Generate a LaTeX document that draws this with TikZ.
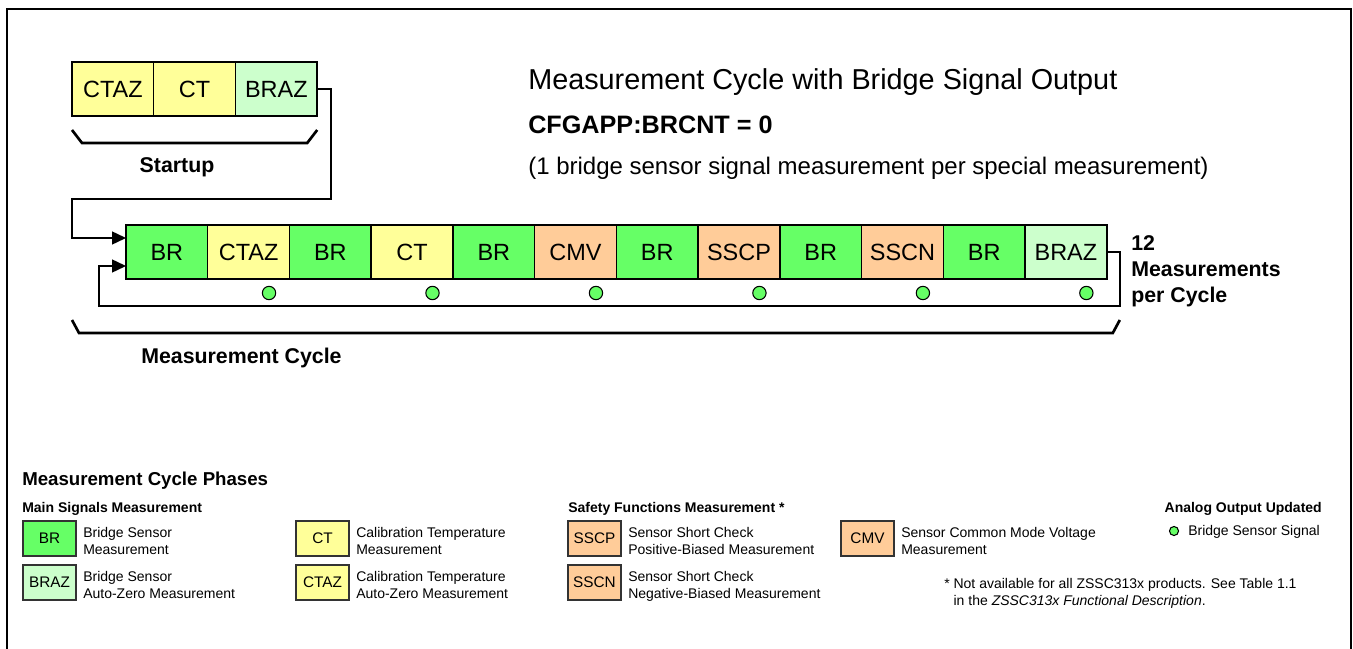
\documentclass[tikz,border=0pt]{standalone}
\usepackage{fontspec}
\setmainfont{Liberation Sans}
\usetikzlibrary{calc,positioning,arrows.meta}
\definecolor{brgreen}{HTML}{66FF66}
\definecolor{brazgreen}{HTML}{CCFFCC}
\definecolor{ctyellow}{HTML}{FFFF99}
\definecolor{ssorange}{HTML}{FFCC99}
\newcommand{\phasefont}{\fontsize{17.6}{21}\selectfont}
\newcommand{\legfont}{\fontsize{10.5}{12.6}\selectfont}
\newcommand{\capfont}{\bfseries\fontsize{16}{19.5}\selectfont}

\tikzset{
  phase/.style={draw=black, line width=1.1pt, outer sep=0pt, inner sep=0pt,
    minimum width=61.3pt, minimum height=40.5pt, font=\phasefont},
  brph/.style={phase, fill=brgreen},
  brazph/.style={phase, fill=brazgreen},
  ctph/.style={phase, fill=ctyellow},
  ssph/.style={phase, fill=ssorange},
  legbox/.style={draw=black!80, line width=1pt, outer sep=0pt, inner sep=0pt,
    minimum width=39.75pt, minimum height=26.25pt, font=\fontsize{11.5}{13}\selectfont},
  legtext/.style={inner sep=0pt, align=left, anchor=north west, font=\legfont},
  conn/.style={line width=1.1pt},
  tip/.style={-{Triangle[length=10.5pt,width=9.75pt]}},
  brace/.style={line width=2pt},
  dotmark/.style={circle, draw=black, line width=0.8pt, fill=brgreen,
    minimum size=10pt, inner sep=0pt},
  txt/.style={inner sep=0pt},
}

\begin{document}
\begin{tikzpicture}[x=0.75pt,y=-0.75pt]
  \useasboundingbox (0,0) rectangle (1353,649);
  % frame, open at the bottom
  \draw[line width=1.5pt] (7,660) -- (7,9) -- (1351,9) -- (1351,660);

  % startup
  \node[ctph, anchor=north west] (s1) at (72,62) {CTAZ};
  \node[ctph, right=0pt of s1] (s2) {CT};
  \node[brazph, right=0pt of s2] (s3) {BRAZ};
  \draw[brace] ($(s1.south west)+(0,14)$) -- ++(10,13) -- ($(s3.south east)+(-10,27)$) -- ($(s3.south east)+(0,14)$);
  \node[txt, anchor=base, font=\capfont] (startup) at ($(s1.south west)+(105,57)$) {Startup};

  % headline
  \node[txt, anchor=base west, font=\fontsize{21.6}{26}\selectfont] (title) at (528,90) {Measurement Cycle with Bridge Signal Output};
  \node[txt, anchor=base west, font=\bfseries\fontsize{18.9}{22}\selectfont] (cfg) at (528,134) {CFGAPP:BRCNT = 0};
  \node[txt, anchor=base west, font=\fontsize{18}{22}\selectfont] (sub) at (528,175) {(1 bridge sensor signal measurement per special measurement)};

  % measurement cycle
  \node[brph, anchor=north west] (m1) at (126,225) {BR};
  \node[ctph, right=0pt of m1] (m2) {CTAZ};
  \node[brph, right=0pt of m2] (m3) {BR};
  \node[ctph, right=0pt of m3] (m4) {CT};
  \node[brph, right=0pt of m4] (m5) {BR};
  \node[ssph, right=0pt of m5] (m6) {CMV};
  \node[brph, right=0pt of m6] (m7) {BR};
  \node[ssph, right=0pt of m7] (m8) {SSCP};
  \node[brph, right=0pt of m8] (m9) {BR};
  \node[ssph, right=0pt of m9] (m10) {SSCN};
  \node[brph, right=0pt of m10] (m11) {BR};
  \node[brazph, right=0pt of m11] (m12) {BRAZ};
  \foreach \k [count=\j] in {2,4,...,12}
    \node[dotmark] (d\j) at ($(m\k.south west)!0.75!(m\k.south east)+(0,14)$) {};

  \draw[conn,tip] (s3.east) -- ++(14,0) -- ++(0,110) -| ($(m1.west)+(-54,-14)$) -- ($(m1.west)+(0,-14)$);
  \draw[conn,tip] (m12.east) -- ++(13,0) -- ++(0,54) -| ($(m1.west)+(-27,14)$) -- ($(m1.west)+(0,14)$);
  \draw[brace] ($(m1.south west)+(-54,41)$) -- ++(7,13) -- ($(m12.south east)+(6,54)$) -- ($(m12.south east)+(13,41)$);
  \node[txt, anchor=base west, font=\capfont] (cyc) at (141,363) {Measurement Cycle};
  \node[txt, anchor=north west, align=left, font=\capfont] (count) at (1131,235) {12\\Measurements\\per Cycle};

  % legend
  \node[txt, anchor=base west, font=\bfseries\fontsize{14}{17}\selectfont] (phases) at (22,485) {Measurement Cycle Phases};
  \node[txt, anchor=base west, font=\bfseries\legfont] (hmain) at (22,512) {Main Signals Measurement};
  \node[txt, anchor=base west, font=\bfseries\legfont] (hsafe) at (568,512) {Safety Functions Measurement *};
  \node[txt, anchor=base east, font=\bfseries\legfont] (hout) at (1322,512) {Analog Output Updated};

  \node[legbox, fill=brgreen, anchor=north west] (lbr) at (23,521) {BR};
  \node[legbox, fill=brazgreen, below=6.75pt of lbr] (lbraz) {BRAZ};
  \node[legbox, fill=ctyellow, anchor=north west] (lct) at (296,521) {CT};
  \node[legbox, fill=ctyellow, below=6.75pt of lct] (lctaz) {CTAZ};
  \node[legbox, fill=ssorange, anchor=north west] (lsscp) at (568,521) {SSCP};
  \node[legbox, fill=ssorange, below=6.75pt of lsscp] (lsscn) {SSCN};
  \node[legbox, fill=ssorange, anchor=north west] (lcmv) at (841,521) {CMV};

  \node[legtext] (tbr) at ($(lbr.north east)+(7,6)$) {Bridge Sensor\\Measurement};
  \node[legtext] (tbraz) at ($(lbraz.north east)+(7,6)$) {Bridge Sensor\\Auto-Zero Measurement};
  \node[legtext] (tct) at ($(lct.north east)+(7,6)$) {Calibration Temperature\\Measurement};
  \node[legtext] (tctaz) at ($(lctaz.north east)+(7,6)$) {Calibration Temperature\\Auto-Zero Measurement};
  \node[legtext] (tsscp) at ($(lsscp.north east)+(7,6)$) {Sensor Short Check\\Positive-Biased Measurement};
  \node[legtext] (tsscn) at ($(lsscn.north east)+(7,6)$) {Sensor Short Check\\Negative-Biased Measurement};
  \node[legtext] (tcmv) at ($(lcmv.north east)+(7,6)$) {Sensor Common Mode Voltage\\Measurement};

  \node[dotmark, minimum size=6.8pt] (ldot) at (1174,531) {};
  \node[txt, anchor=west, font=\legfont] (tdot) at ($(ldot)+(14,1)$) {Bridge Sensor Signal};
  \node[legtext] (note) at (944,578) {* Not available for all ZSSC313x products. See Table 1.1\\\phantom{* }in the \textit{ZSSC313x Functional Description}.};
\end{tikzpicture}
\end{document}
